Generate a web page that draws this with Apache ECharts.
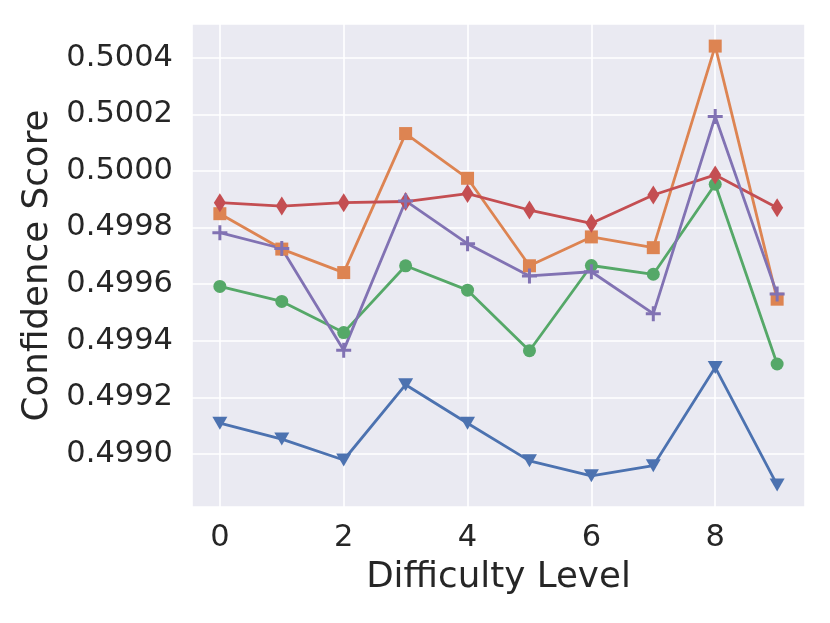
<!DOCTYPE html>
<html>
<head>
<meta charset="utf-8">
<script src="https://cdn.jsdelivr.net/npm/echarts@6/dist/echarts.min.js"></script>
<style>
  html, body { margin: 0; padding: 0; background: #ffffff; }
  #chart { width: 830px; height: 623px; }
</style>
</head>
<body>
<div id="chart"></div>
<script>
// difficulty levels on the x axis
var levels = [0, 1, 2, 3, 4, 5, 6, 7, 8, 9];

// confidence scores, one array per line
var blueScores   = [0.499109, 0.499053, 0.498979, 0.499245, 0.499109, 0.498976, 0.498923, 0.498959, 0.499306, 0.498891];
var orangeScores = [0.499849, 0.499724, 0.499641, 0.500132, 0.499974, 0.499665, 0.499767, 0.499729, 0.500441, 0.499547];
var greenScores  = [0.499592, 0.499539, 0.499429, 0.499665, 0.499579, 0.499365, 0.499666, 0.499635, 0.499953, 0.499318];
var redScores    = [0.499888, 0.499876, 0.499888, 0.499892, 0.499920, 0.499862, 0.499815, 0.499915, 0.499986, 0.499870];
var purpleScores = [0.499782, 0.499726, 0.499367, 0.499894, 0.499743, 0.499629, 0.499644, 0.499496, 0.500192, 0.499565];

var textColor = '#262626';
var plusPath = 'path://M4,0 H6 V4 H10 V6 H6 V10 H4 V6 H0 V4 H4 Z';

function pairs(ys) {
    return levels.map(function (x, i) { return [x, ys[i]]; });
}

function makeSeries(name, ys, color, symbol, size, rotate) {
    return {
        name: name,
        type: 'line',
        data: pairs(ys),
        symbol: symbol,
        symbolSize: size,
        symbolRotate: rotate || 0,
        showAllSymbol: true,
        lineStyle: {color: color, width: 2.8},
        itemStyle: {color: color, opacity: 1},
        animation: false
    };
}

var chart = echarts.init(document.getElementById('chart'));

var option = {
    backgroundColor: '#ffffff',
    textStyle: {fontFamily: 'DejaVu Sans'},
    grid: {
        left: 192,
        right: 25,
        top: 24,
        bottom: 116,
        show: true,
        backgroundColor: '#EAEAF2',
        borderWidth: 0
    },
    xAxis: {
        type: 'value',
        min: -0.45,
        max: 9.45,
        splitNumber: 5,
        name: 'Difficulty Level',
        nameLocation: 'middle',
        nameGap: 53,
        nameTextStyle: {fontSize: 35.7, color: textColor},
        axisLine: {show: false},
        axisTick: {show: false},
        axisLabel: {
            fontSize: 30.5,
            color: textColor,
            margin: 16,
            showMinLabel: false,
            showMaxLabel: false
        },
        splitLine: {show: true, lineStyle: {color: '#ffffff', width: 1.6}}
    },
    yAxis: {
        type: 'value',
        min: 0.498813,
        max: 0.500519,
        splitNumber: 8,
        name: 'Confidence Score',
        nameLocation: 'middle',
        nameGap: 130,
        nameTextStyle: {fontSize: 35.7, color: textColor},
        axisLine: {show: false},
        axisTick: {show: false},
        axisLabel: {
            fontSize: 30.5,
            color: textColor,
            margin: 19,
            showMinLabel: false,
            showMaxLabel: false,
            formatter: function (v) { return v.toFixed(4); }
        },
        splitLine: {show: true, lineStyle: {color: '#ffffff', width: 1.6}}
    },
    series: [
        makeSeries('blue', blueScores, '#4C72B0', 'triangle', [15, 13], 180),
        makeSeries('orange', orangeScores, '#DD8452', 'rect', 13),
        makeSeries('green', greenScores, '#55A868', 'circle', 13),
        makeSeries('red', redScores, '#C44E52', 'diamond', [12, 19]),
        makeSeries('purple', purpleScores, '#8172B3', plusPath, 15)
    ]
};

chart.setOption(option);
</script>
</body>
</html>
